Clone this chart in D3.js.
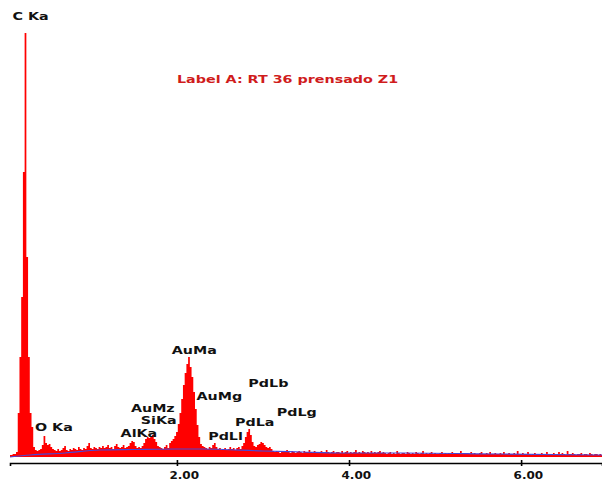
<!DOCTYPE html>
<html>
<head>
<meta charset="utf-8">
<script src="https://cdn.jsdelivr.net/npm/d3@7"></script>
<style>
  html, body { margin: 0; padding: 0; background: #fff; overflow: hidden; }
  svg text { font-family: "DejaVu Sans", sans-serif; font-weight: bold; }
</style>
</head>
<body>
<div id="chart"></div>
<script>
// spectrum channels: energy = startKeV + stepKeV * index
const startKeV = 0.06, stepKeV = 0.02;
const counts = [
  2,2,3,3,5,44,100,160,285,424,
  200,100,44,30,10,7,6,7,8,12,
  21,14,12,13,10,8,7,6,8,6,
  7,9,11,7,6,8,7,9,8,7,
  10,8,7,9,8,11,14,9,8,10,
  9,8,10,9,11,9,10,12,9,10,
  8,11,13,10,9,10,12,9,10,11,
  14,16,15,11,9,10,9,11,14,18,
  20,19,21,22,18,15,11,10,9,8,
  10,12,9,14,16,18,21,25,33,44,
  58,72,84,93,100,90,80,65,48,32,
  20,13,11,10,9,8,10,9,12,14,
  10,8,9,7,8,9,7,8,10,8,
  9,7,9,10,8,11,14,20,25,28,
  22,15,11,10,12,13,15,14,12,10,
  9,10,8,6,5,6,5,4,6,5,
  5,7,5,4,6,5,4,5,6,5,
  4,6,5,5,7,5,4,6,5,4,
  5,6,4,5,7,5,4,5,6,4,
  5,5,4,6,4,5,6,4,5,4,
  5,7,4,5,4,6,5,4,5,4,
  6,4,5,4,5,6,4,5,4,3,
  4,5,3,4,3,6,4,3,4,4,
  3,5,4,3,4,3,5,4,3,4,
  6,3,4,3,4,5,3,4,3,3,
  4,5,3,4,3,4,3,5,4,3,
  3,4,6,3,4,3,4,3,5,3,
  4,3,3,4,5,3,3,4,3,5,
  3,3,4,3,3,4,3,5,3,3,
  4,3,3,4,3,6,3,3,4,3,
  3,5,3,2,3,4,3,3,2,4,
  3,3,5,3,2,3,4,3,2,5,
  3,4,3,2,6,3,3,4,3,2,
  3,3,4,2,3,3,2,4,3,2,
  3,3,2,3,2
];

// fitted background (continuum)
const bgKeV    = [0.06, 0.30, 0.70, 1.10, 1.50, 2.00, 2.30, 3.00, 3.45, 3.90, 4.60, 5.75, 6.94];
const bgCounts = [0,    2,    4,    7,    7.5,  8,    8,    6,    5,    4,    4,    3,    2];

// peak labels, anchored in keV / counts
const peakNames  = ["C Ka", "O Ka", "AlKa", "SiKa", "AuMz", "AuMa", "AuMg", "PdLl", "PdLa", "PdLb", "PdLg"];
const peakKeV    = [0.09,   0.35,   1.345,  1.58,   1.465,  1.94,   2.227,  2.363,  2.674,  2.83,   3.16];
const peakCounts = [437,    26,     20,     33,     45,     103,    57,     17,     31,     70,     41];

const tickValues = [2, 4, 6];
const title = "Label A: RT 36 prensado Z1";

const width = 602, height = 481;

const svg = d3.select("#chart").append("svg")
  .attr("width", width)
  .attr("height", height);

const x = d3.scaleLinear().domain([0.06, 6.94]).range([10, 602]);
const y = d3.scaleLinear().domain([0, 424]).range([457, 33]);

const spectrum = counts.map((c, i) => ({ e: startKeV + stepKeV * i, c: c }));

const area = d3.area()
  .curve(d3.curveStep)
  .x(d => x(d.e))
  .y0(y(0))
  .y1(d => y(d.c));

svg.append("path")
  .datum(spectrum)
  .attr("d", area)
  .attr("fill", "#ff0000");

// background line
const bg = bgKeV.map((e, i) => ({ e: e, c: bgCounts[i] }));
svg.append("path")
  .datum(bg)
  .attr("d", d3.line().curve(d3.curveMonotoneX).x(d => x(d.e)).y(d => y(d.c)))
  .attr("fill", "none")
  .attr("stroke", "#4848d8")
  .attr("stroke-width", 1.2);

// x axis
const xAxis = d3.axisBottom(x)
  .tickValues(tickValues)
  .tickFormat(d3.format(".2f"))
  .tickSizeOuter(0)
  .tickSize(3);

const gx = svg.append("g")
  .attr("transform", "translate(0,463)")
  .call(xAxis);

gx.select(".domain").attr("stroke", "#000").attr("stroke-width", 1.6);
gx.selectAll(".tick line")
  .attr("y1", -3).attr("y2", 3)
  .attr("stroke", "#000").attr("stroke-width", 1.6);
gx.selectAll(".tick text")
  .attr("x", 0).attr("y", 0).attr("dy", 0)
  .attr("text-anchor", "start")
  .attr("transform", "translate(-8,16) scale(1.2,1)")
  .attr("font-size", 10)
  .attr("font-family", "DejaVu Sans")
  .attr("font-weight", "bold")
  .attr("fill", "#111");

// peak labels
svg.append("g").selectAll("text")
  .data(peakNames)
  .join("text")
  .attr("transform", (d, i) => `translate(${x(peakKeV[i])},${y(peakCounts[i])}) scale(1.3,1)`)
  .attr("font-size", 11)
  .attr("fill", "#111")
  .text(d => d);

// title
svg.append("text")
  .attr("transform", "translate(177,83) scale(1.3,1)")
  .attr("font-size", 11)
  .attr("fill", "#d01c1c")
  .text(title);
</script>
</body>
</html>
